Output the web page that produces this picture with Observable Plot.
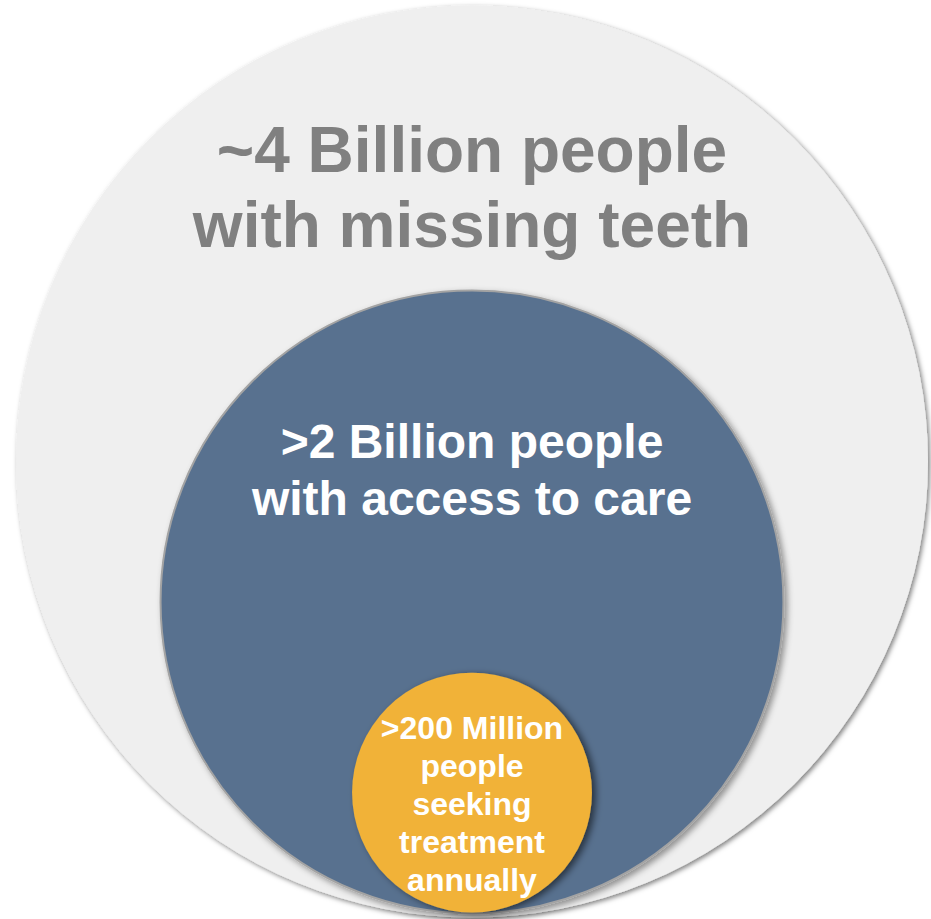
<!DOCTYPE html>
<html>
<head>
<meta charset="utf-8">
<script src="https://cdn.jsdelivr.net/npm/d3@7"></script>
<script src="https://cdn.jsdelivr.net/npm/@observablehq/plot@0.6"></script>
<style>
  html, body { margin: 0; padding: 0; background: #ffffff; }
  #chart { width: 931px; height: 919px; }
</style>
</head>
<body>
<div id="chart"></div>
<script>
// ---- Data ----
const labels = [
  "~4 Billion people\nwith missing teeth",
  ">2 Billion people\nwith access to care",
  ">200 Million\npeople\nseeking\ntreatment\nannually"
];
// circle radius relative to the outer circle
const relRadius = [1, 0.683, 0.263];
// circle centre (vertical, in outer-radius units; outer centre = 0)
const centerY = [0, -0.308, -0.726];
const centerX = [0, 0, 0];

const circles = labels.map((label, i) => ({
  label, x: centerX[i], y: centerY[i], r: relRadius[i]
}));

// ---- Styling / layout ----
const fills = ["#efefef", "#58718f", "#f1b237"];
const textColors = ["#808080", "#ffffff", "#ffffff"];
const fontSizes = [64, 48, 32];
const lineHeights = [1.17, 1.1875, 1.19];
const labelOffset = [0.751, 0.591, 0.675]; // label anchor, as fraction of radius above centre

const marks = [];
circles.forEach((c, i) => {
  marks.push(Plot.dot([c], {x: "x", y: "y", r: "r", fill: fills[i], stroke: i === 1 ? "#a3a3a3" : "none", strokeWidth: i === 1 ? 2 : 0}));
});
circles.forEach((c, i) => {
  marks.push(Plot.text([c], {
    x: "x",
    y: d => d.y + labelOffset[i] * d.r,
    text: "label",
    fill: textColors[i],
    fontSize: fontSizes[i],
    fontWeight: "bold",
    fontFamily: "Liberation Sans, Arial, sans-serif",
    lineAnchor: "top",
    lineHeight: lineHeights[i],
    textAnchor: "middle"
  }));
});

const chart = Plot.plot({
  width: 931,
  height: 919,
  marginLeft: 15,
  marginRight: 3,
  marginTop: 5,
  marginBottom: 2,
  style: {background: "#ffffff", overflow: "visible"},
  x: {domain: [-1, 1], axis: null},
  y: {domain: [-1, 1], axis: null},
  r: {type: "linear", domain: [0, 1], range: [0, 456]},
  marks
});

// drop shadows like the original
const svg = d3.select(chart);
const defs = svg.insert("defs", ":first-child");
const shadows = [
  {id: "sh0", dx: 2, dy: 2, sd: 2.5, op: 0.5},
  {id: "sh1", dx: 3, dy: 3, sd: 3, op: 0.4},
  {id: "sh2", dx: 4, dy: 2, sd: 3.5, op: 0.55}
];
shadows.forEach(s => {
  defs.append("filter").attr("id", s.id).attr("x", "-10%").attr("y", "-10%").attr("width", "120%").attr("height", "120%")
    .append("feDropShadow").attr("dx", s.dx).attr("dy", s.dy).attr("stdDeviation", s.sd)
    .attr("flood-color", "#000").attr("flood-opacity", s.op);
});
const dotGroups = svg.selectAll('g[aria-label="dot"]').nodes();
dotGroups.forEach((g, i) => d3.select(g).attr("filter", `url(#sh${i})`));

document.getElementById("chart").appendChild(chart);
</script>
</body>
</html>
